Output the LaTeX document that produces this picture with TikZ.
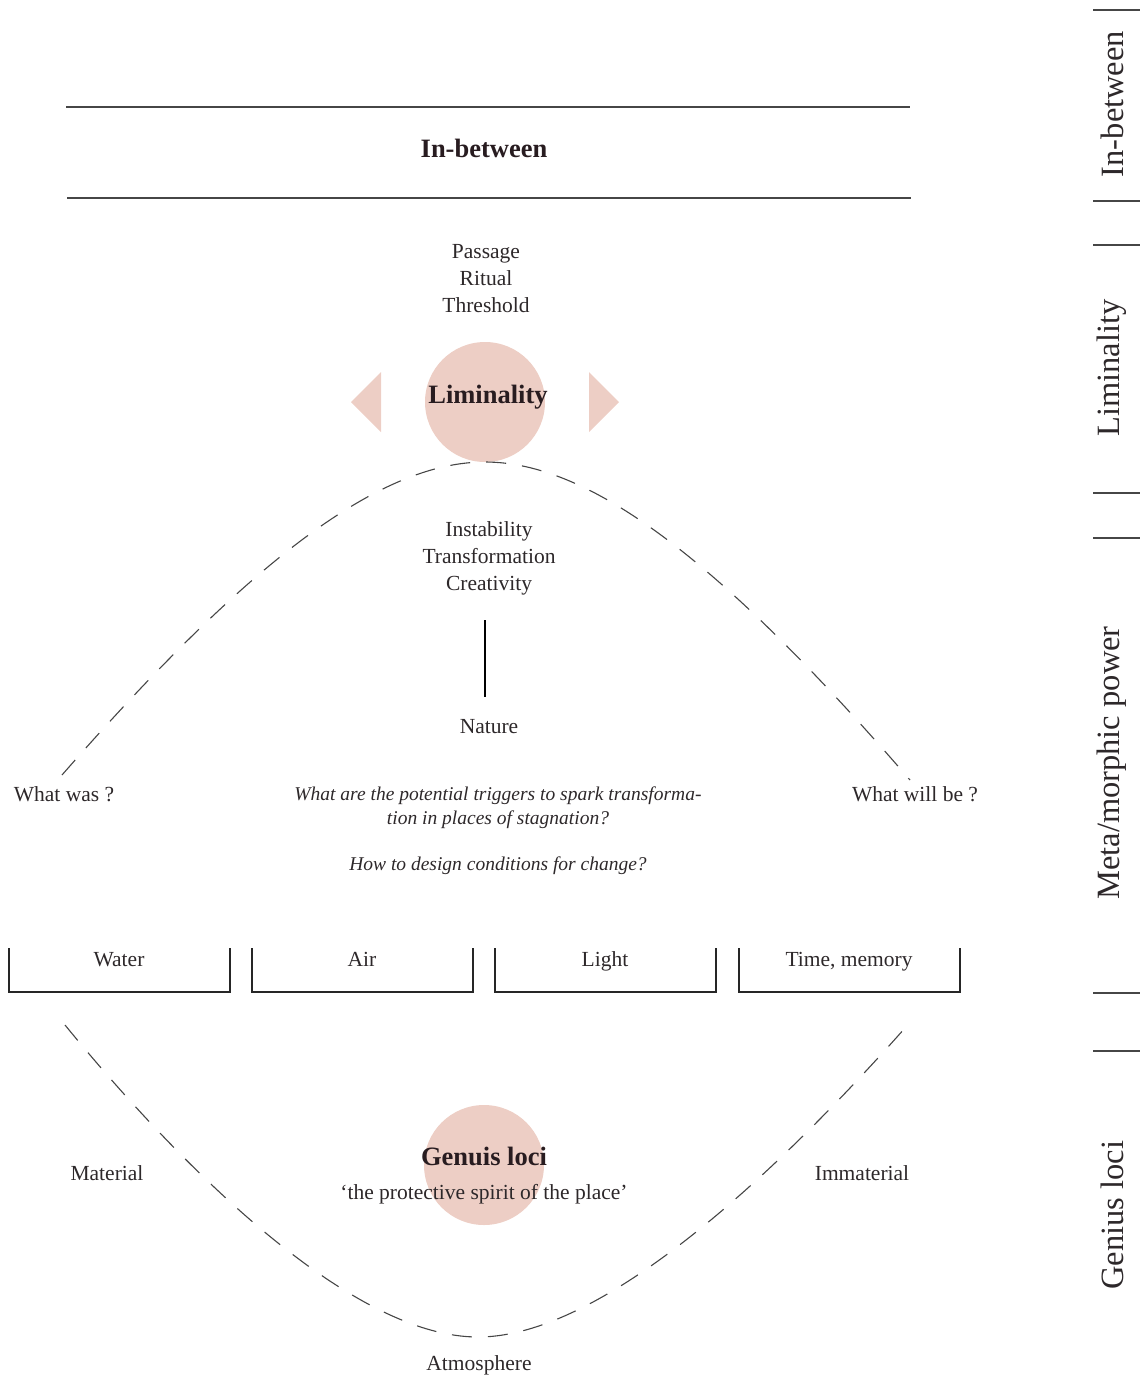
\documentclass[tikz,border=0pt]{standalone}
\usepackage{fontspec}
\setmainfont{Liberation Serif}
\definecolor{pinkc}{RGB}{237,206,197}
\definecolor{txt}{RGB}{45,40,42}
\definecolor{boldtxt}{RGB}{40,28,32}
\definecolor{linec}{RGB}{70,70,70}
\begin{document}
\begin{tikzpicture}[x=1pt,y=-1pt,
  reg/.style={font=\fontsize{21.5}{27}\selectfont, text=txt, inner sep=0pt, align=center},
  ital/.style={font=\fontsize{19.5}{24}\selectfont\itshape, text=txt, inner sep=0pt, align=center},
  big/.style={font=\fontsize{26.5}{30}\selectfont\bfseries, text=boldtxt, inner sep=0pt},
  side/.style={font=\fontsize{32.5}{36}\selectfont, text=txt, inner sep=0pt, rotate=90},
  disc/.style={circle, fill=pinkc, minimum size=120pt, inner sep=0pt},
  rule/.style={draw=linec, line width=1.4pt},
  sidebar/.style={draw=linec, line width=1.2pt},
  wave/.style={draw=linec, line width=1.1pt, dash pattern=on 20pt off 16pt},
  bracket/.style={draw=black!85, line width=1.4pt}
]
\useasboundingbox (0,0) rectangle (1140,1385);

% top band
\coordinate (t1) at (66,107); \coordinate (t2) at (910,107);
\coordinate (b1) at (67,198); \coordinate (b2) at (911,198);
\draw[rule] (t1) -- (t2);
\draw[rule] (b1) -- (b2);
\node[big] (inb) at (484,148) {In-between};

% side labels
\node[side] (s1) at (1112,104) {In-between};
\node[side] (s2) at (1112,368) {Liminality};
\node[side] (s3) at (1112,763) {Meta/morphic power};
\node[side] (s4) at (1112,1215) {Genius loci};
\foreach \yy/\nm in {10/a,201/b,245/c,493/d,538/e,993/f,1051/g}{
  \coordinate (sl\nm) at (1093,\yy);
  \coordinate (sr\nm) at (1140,\yy);
  \draw[sidebar] (sl\nm) -- (sr\nm);
}

% liminality
\node[reg] (pass) at (486,279) {Passage\\Ritual\\Threshold};
\node[disc] (limc) at (485,402) {};
\fill[pinkc] (351,402) -- (381,372) -- (381,432) -- cycle;
\fill[pinkc] (619,402) -- (589,372) -- (589,432) -- cycle;
\node[big] (lim) at (488,397) {Liminality};

% top wave
\coordinate (w1) at (62,775);
\coordinate (wp) at (485,462);
\coordinate (w2) at (910,780);
\draw[wave] (w1) .. controls (250,560) and (380,462) .. (wp)
  .. controls (590,462) and (720,560) .. (w2);

\node[reg] (inst) at (489,558) {Instability\\Transformation\\Creativity};
\coordinate (v1) at (485,620);
\coordinate (v2) at (485,697);
\draw[black, line width=1.8pt] (v1) -- (v2);
\node[reg] (nat) at (489,727) {Nature};

\node[reg] (was) at (64,794) {What was ?};
\node[reg] (will) at (915,794) {What will be ?};
\node[ital] (q1) at (498,808) {What are the potential triggers to spark transforma-\\tion in places of stagnation?};
\node[ital] (q2) at (498,866) {How to design conditions for change?};

% brackets
\foreach \xa/\lab/\nm in {9/Water/wat,252/Air/air,495/Light/lig,739/{Time, memory}/tim}{
  \draw[bracket] (\xa,948) -- (\xa,992) -- (\xa+221,992) -- (\xa+221,948);
  \node[reg, anchor=base] (\nm) at (\xa+110,966) {\lab};
}

% genius loci
\node[disc] (genc) at (484,1165) {};
\node[big] (gen) at (484,1156) {Genuis loci};
\node[reg] (spirit) at (484,1194) {‘the protective spirit of the place’};

\coordinate (u1) at (65,1025);
\coordinate (ub) at (478,1337);
\coordinate (u2) at (905,1028);
\draw[wave] (u1) .. controls (200,1190) and (360,1337) .. (ub)
  .. controls (600,1337) and (770,1180) .. (u2);

\node[reg] (mat) at (107,1173) {Material};
\node[reg] (imm) at (862,1173) {Immaterial};
\node[reg] (atm) at (479,1365) {Atmosphere};
\end{tikzpicture}
\end{document}
